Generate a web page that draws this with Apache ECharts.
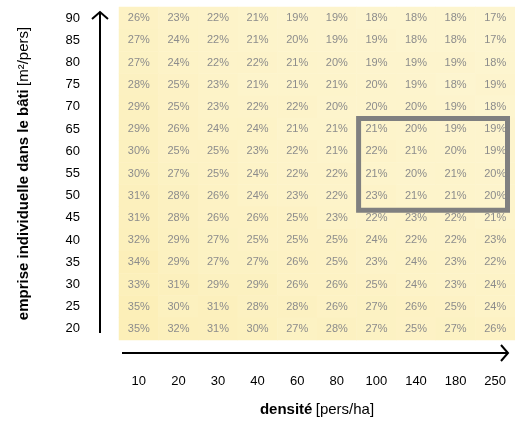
<!DOCTYPE html>
<html><head><meta charset="utf-8">
<script src="https://cdn.jsdelivr.net/npm/echarts@6/dist/echarts.min.js"></script>
<style>html,body{margin:0;padding:0;background:#fff}#c{width:515px;height:424px}</style>
</head><body><div id="c"></div>
<script>
// Categories
const densite = ['10','20','30','40','60','80','100','140','180','250'];
const emprise = ['20','25','30','35','40','45','50','55','60','65','70','75','80','85','90'];
// Values (%), rows listed from emprise 90 (top) down to 20 (bottom)
const rowOrder = ['90','85','80','75','70','65','60','55','50','45','40','35','30','25','20'];
const part = [
  [26,23,22,21,19,19,18,18,18,17],
  [27,24,22,21,20,19,19,18,18,17],
  [27,24,22,22,21,20,19,19,19,18],
  [28,25,23,21,21,21,20,19,18,19],
  [29,25,23,22,22,20,20,20,19,18],
  [29,26,24,24,21,21,21,20,19,19],
  [30,25,25,23,22,21,22,21,20,19],
  [30,27,25,24,22,22,21,20,21,20],
  [31,28,26,24,23,22,23,21,21,20],
  [31,28,26,26,25,23,22,23,22,21],
  [32,29,27,25,25,25,24,22,22,23],
  [34,29,27,27,26,25,23,24,23,22],
  [33,31,29,29,26,26,25,24,23,24],
  [35,30,31,28,28,26,27,26,25,24],
  [35,32,31,30,27,28,27,25,27,26]
];
// Highlighted block (densité from..to, emprise from..to)
const highlightDensite = ['100','250'];
const highlightEmprise = ['65','50'];

const FONT = "'Liberation Sans', Arial, sans-serif";
const G = {left:119, top:7, width:396, height:333};

const data = [];
rowOrder.forEach((r, i) => {
  part[i].forEach((v, j) => data.push([j, emprise.indexOf(r), v]));
});

const chart = echarts.init(document.getElementById('c'), null, {renderer:'canvas'});
chart.setOption({
  animation:false,
  backgroundColor:'#fff',
  textStyle:{fontFamily:FONT},
  grid:{left:G.left, top:G.top, width:G.width, height:G.height, containLabel:false},
  xAxis:{
    type:'category', data:densite,
    axisLine:{show:false}, axisTick:{show:false}, splitLine:{show:false},
    axisLabel:{color:'#000', fontSize:13, margin:35, fontFamily:FONT},
    name:'{b|densité} {n|[pers/ha]}', nameLocation:'middle', nameGap:62,
    nameTextStyle:{rich:{b:{fontWeight:'bold',fontSize:15,fontFamily:FONT,color:'#000'},n:{fontSize:15,fontFamily:FONT,color:'#000'}}}
  },
  yAxis:{
    type:'category', data:emprise,
    axisLine:{show:false}, axisTick:{show:false}, splitLine:{show:false},
    axisLabel:{color:'#000', fontSize:13, margin:39, fontFamily:FONT},
    name:'{b|emprise individuelle dans le bâti} {n|[m²/pers]}', nameLocation:'middle', nameGap:88, nameRotate:90,
    nameTextStyle:{rich:{b:{fontWeight:'bold',fontSize:15,fontFamily:FONT,color:'#000'},n:{fontSize:15,fontFamily:FONT,color:'#000'}}}
  },
  visualMap:{show:false, min:17, max:35, dimension:2, inRange:{color:['#FDF5D0','#FCEFB8']}},
  series:[{
    type:'heatmap', data:data,
    label:{show:true, formatter:p=>p.value[2]+'%', color:'#8c8c8c', fontSize:11, fontFamily:FONT},
    itemStyle:{borderWidth:0},
    emphasis:{disabled:true}
  }]
});

// Highlight rectangle from the axis scales
const i0 = densite.indexOf(highlightDensite[0]), i1 = densite.indexOf(highlightDensite[1]);
const k0 = emprise.indexOf(highlightEmprise[0]), k1 = emprise.indexOf(highlightEmprise[1]);
const pA = chart.convertToPixel({gridIndex:0}, [i0, k0]);
const pB = chart.convertToPixel({gridIndex:0}, [i1, k1]);
const pC = chart.convertToPixel({gridIndex:0}, [i0+1, k0-1]);
const bw = pC[0]-pA[0], bh = pC[1]-pA[1];
const x0 = pA[0]-bw/2+2, x1 = pB[0]+bw/2-7.5;
const y0 = pA[1]-bh/2+0.5, y1 = pB[1]+bh/2+3.5;

const ax = G.left-19, ayTop = G.top+5, ayBot = G.top+G.height-7;
const bxY = G.top+G.height+13, bxL = G.left+3, bxR = G.left+G.width-7;
chart.setOption({graphic:[
  {type:'rect', shape:{x:x0,y:y0,width:x1-x0,height:y1-y0}, style:{fill:null, stroke:'#808080', lineWidth:5}, z:100},
  {type:'line', shape:{x1:ax,y1:ayBot,x2:ax,y2:ayTop+1}, style:{stroke:'#000', lineWidth:2}},
  {type:'polyline', shape:{points:[[ax-8,ayTop+7],[ax,ayTop],[ax+8,ayTop+7]]}, style:{stroke:'#000', lineWidth:2, fill:null}},
  {type:'line', shape:{x1:bxL,y1:bxY,x2:bxR-1,y2:bxY}, style:{stroke:'#000', lineWidth:2}},
  {type:'polyline', shape:{points:[[bxR-7,bxY-8],[bxR,bxY],[bxR-7,bxY+8]]}, style:{stroke:'#000', lineWidth:2, fill:null}}
]});
</script></body></html>
